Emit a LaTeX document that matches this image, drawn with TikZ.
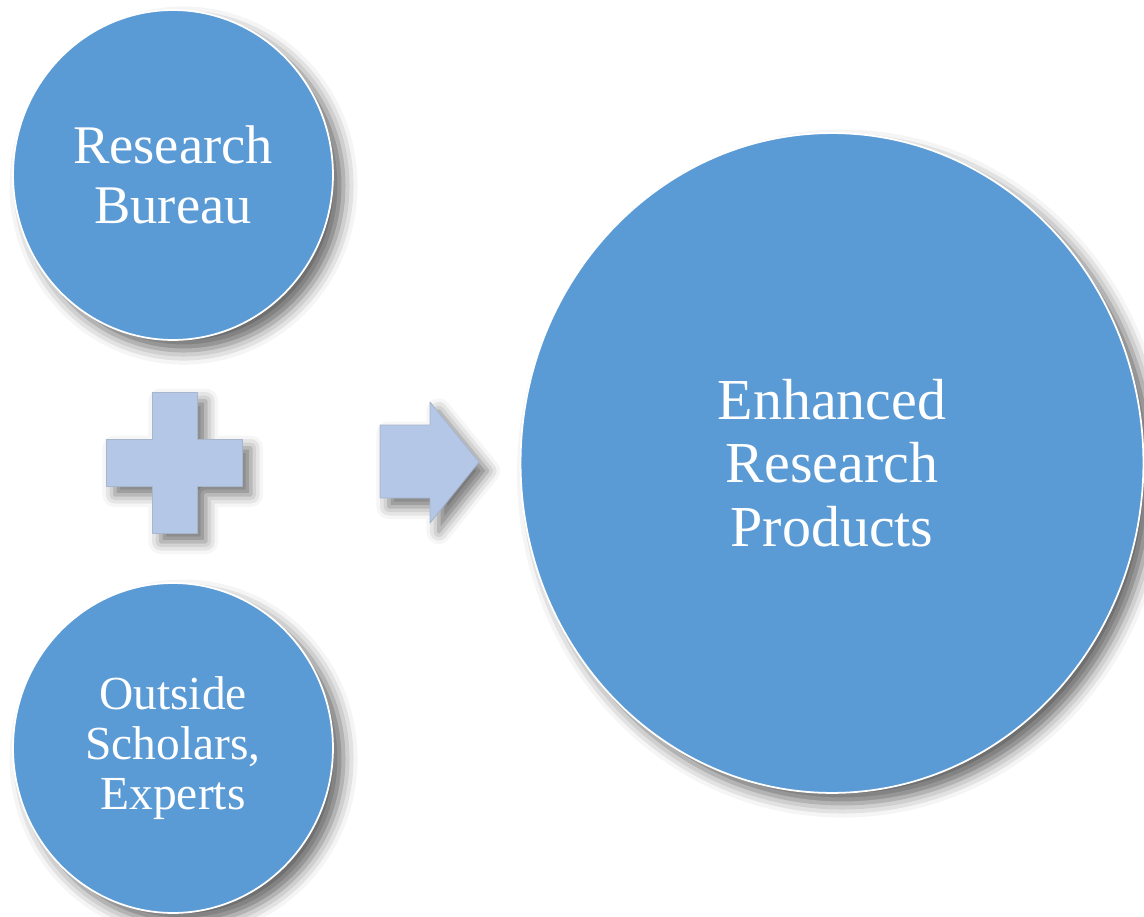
\documentclass[tikz,border=0pt]{standalone}
\usepackage{fontspec}
\setmainfont{Liberation Serif}
\usetikzlibrary{shapes.geometric,shadows.blur}
\definecolor{bubblefill}{HTML}{5B9BD5}
\definecolor{signfill}{HTML}{B4C7E7}

\begin{document}
\begin{tikzpicture}[x=0.02cm,y=-0.02cm,
bubble/.style={ellipse,fill=bubblefill,draw=white,line width=1pt,text=white,align=center,
  blur shadow={shadow xshift=6pt,shadow yshift=-6pt,shadow blur radius=8pt,shadow opacity=60}},
sign/.style={fill=signfill,draw=signfill!75!gray,line width=0.5pt,line join=round,
  blur shadow={shadow xshift=5pt,shadow yshift=-5pt,shadow blur radius=7pt,shadow opacity=55}}]
\useasboundingbox (0,0) rectangle (1144,917);
\node[bubble,minimum width=6.4cm,minimum height=6.6cm,font=\fontsize{31}{34}\selectfont] (RB)  at (173,175) {Research\\Bureau};
\node[bubble,minimum width=6.4cm,minimum height=6.6cm,font=\fontsize{27}{28.5}\selectfont] (OS)  at (173,748) {Outside\\Scholars,\\Experts};
\node[bubble,minimum width=12.46cm,minimum height=13.2cm,font=\fontsize{33}{36}\selectfont] (ERP) at (832,463) {Enhanced\\Research\\Products};

% plus sign
\path[sign] (152,392) -- (197,392) -- (197,439) -- (242,439) -- (242,486) -- (197,486) -- (197,533)
  -- (152,533) -- (152,486) -- (106,486) -- (106,439) -- (152,439) -- cycle;
% arrow
\path[sign] (380,425) -- (430,425) -- (430,402) -- (479,462) -- (430,523) -- (430,498) -- (380,498) -- cycle;
\end{tikzpicture}
\end{document}
